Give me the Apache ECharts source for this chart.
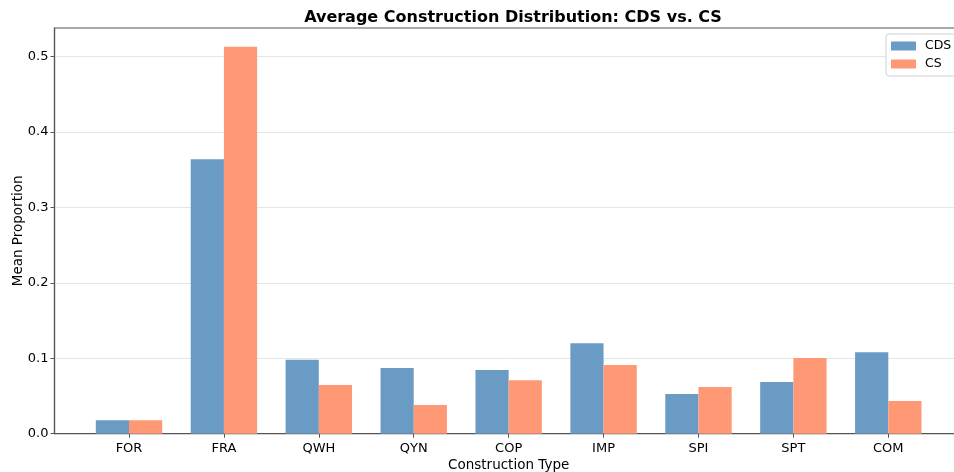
<!DOCTYPE html>
<html>
<head>
<meta charset="utf-8">
<script src="https://cdn.jsdelivr.net/npm/echarts@6/dist/echarts.min.js"></script>
<style>
  html, body { margin: 0; padding: 0; background: #fff; }
  #chart { width: 954px; height: 472px; }
</style>
</head>
<body>
<div id="chart"></div>
<script>
// construction types on the x axis
var categories = ['FOR', 'FRA', 'QWH', 'QYN', 'COP', 'IMP', 'SPI', 'SPT', 'COM'];
// mean proportion per type
var cdsValues = [0.018, 0.364, 0.098, 0.087, 0.0845, 0.120, 0.0527, 0.0686, 0.108];
var csValues = [0.018, 0.513, 0.0646, 0.038, 0.071, 0.091, 0.062, 0.1004, 0.0434];
var yTicks = [0, 0.1, 0.2, 0.3, 0.4, 0.5];

var font = 'DejaVu Sans';
var positions = categories.map(function (c, i) { return i; });

function toPoints(values) {
    return values.map(function (v, i) { return [i, v]; });
}

var chart = echarts.init(document.getElementById('chart'));

chart.setOption({
    animation: false,
    textStyle: { fontFamily: font },
    title: {
        text: 'Average Construction Distribution: CDS vs. CS',
        left: 508,
        top: 5,
        textAlign: 'center',
        textStyle: { fontSize: 16, fontWeight: 'bold', color: '#000', fontFamily: font }
    },
    legend: {
        orient: 'vertical',
        left: 886,
        top: 34,
        padding: [5, 30, 5, 5],
        itemWidth: 25,
        itemHeight: 9,
        itemGap: 4,
        icon: 'rect',
        backgroundColor: '#fff',
        borderColor: '#d0d0d0',
        borderWidth: 1,
        borderRadius: 3,
        textStyle: { fontSize: 12.5, color: '#000', lineHeight: 14, padding: [0, 0, 0, 4], fontFamily: font },
        data: ['CDS', 'CS']
    },
    grid: {
        left: 54.5,
        right: -8.8,
        top: 28,
        bottom: 38.3,
        outerBoundsMode: 'none',
        containLabel: false,
        show: true,
        borderColor: '#555',
        borderWidth: 1.2
    },
    xAxis: {
        type: 'value',
        min: -0.785,
        max: 8.785,
        name: 'Construction Type',
        nameLocation: 'middle',
        nameGap: 25,
        nameMoveOverlap: false,
        nameTextStyle: { fontSize: 13.5, color: '#000', fontFamily: font },
        splitLine: { show: false },
        axisLine: { onZero: false, lineStyle: { color: '#555', width: 1.2 } },
        axisTick: { show: true, length: 4, customValues: positions, lineStyle: { color: '#555' } },
        axisLabel: {
            customValues: positions,
            fontSize: 13,
            color: '#000',
            margin: 8,
            formatter: function (v) { return categories[Math.round(v)]; }
        }
    },
    yAxis: {
        type: 'value',
        min: 0,
        max: 0.538,
        name: 'Mean Proportion',
        nameLocation: 'middle',
        nameRotate: 90,
        nameGap: 29,
        nameMoveOverlap: false,
        nameTextStyle: { fontSize: 13.5, color: '#000', fontFamily: font },
        axisLine: { show: true, onZero: false, lineStyle: { color: '#555', width: 1.2 } },
        axisTick: { show: true, length: 4, customValues: yTicks, lineStyle: { color: '#555' } },
        axisLabel: {
            customValues: yTicks,
            fontSize: 13,
            color: '#000',
            margin: 6,
            formatter: function (v) { return v.toFixed(1); }
        },
        splitLine: { show: true, lineStyle: { color: '#e6e6e6', width: 1 } },
        interval: 0.1
    },
    series: [
        {
            name: 'CDS',
            type: 'bar',
            barWidth: 33.2,
            barGap: '0%',
            itemStyle: { color: '#6a9bc4' },
            data: toPoints(cdsValues)
        },
        {
            name: 'CS',
            type: 'bar',
            barWidth: 33.2,
            barGap: '0%',
            itemStyle: { color: '#ff9975' },
            data: toPoints(csValues)
        }
    ]
});
</script>
</body>
</html>
